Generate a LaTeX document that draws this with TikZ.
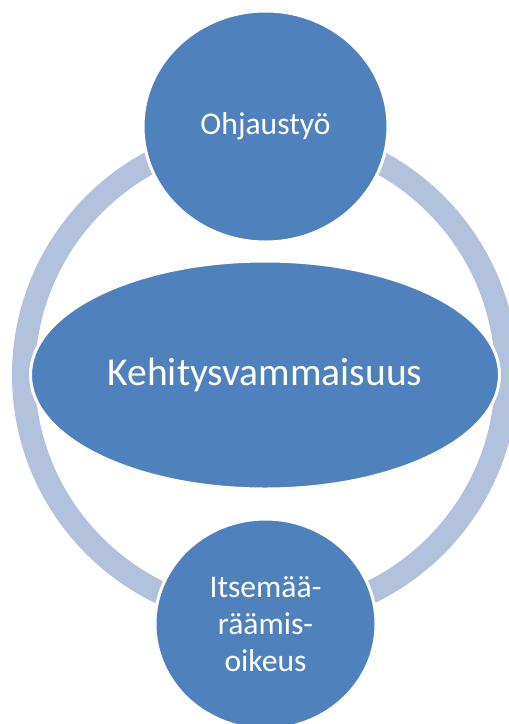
\documentclass[tikz,border=0pt]{standalone}
\usepackage{fontspec}
\setmainfont{Carlito}
\usetikzlibrary{shapes.geometric}
\definecolor{accentblue}{RGB}{79,129,189}
\definecolor{ringblue}{RGB}{179,194,220}

\begin{document}
\begin{tikzpicture}[x=1pt, y=-1pt]
        \tikzset{
            blob/.style  = {ellipse, fill=accentblue, draw=white, line width=3pt,
                            inner sep=0pt, text=white, align=center},
            small/.style = {blob, font=\fontsize{31.6}{37}\selectfont},
            big/.style   = {blob, font=\fontsize{39.5}{46}\selectfont},
            ring/.style  = {draw=ringblue, line width=23pt}
        }
        \useasboundingbox (0,0) rectangle (509,724);
        \clip (0,0) rectangle (509,724);

        \coordinate (C) at (265,375);
        \draw[ring] (C) circle[radius=241.5];

        \node[big, minimum width=469pt, minimum height=228pt] (KEH) at (C) {Kehitysvammaisuus};
        \node[small, minimum width=245pt, minimum height=231pt] (OHJ) at (265.5,126.5) {Ohjaustyö};
        \node[small, minimum width=221pt, minimum height=210pt] (ITS) at (265.5,624) {Itsemää-\\räämis-\\oikeus};
    \end{tikzpicture}
\end{document}
